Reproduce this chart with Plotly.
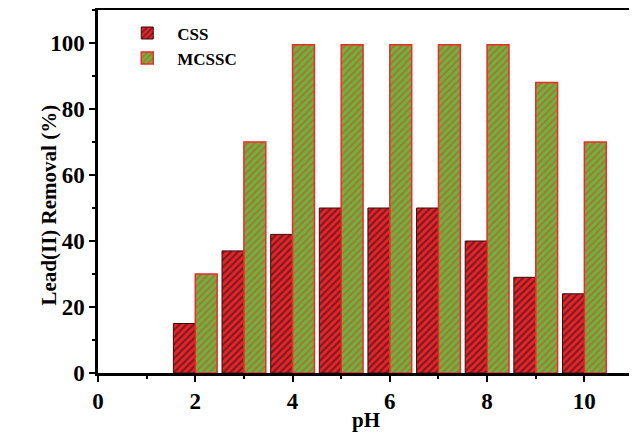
import plotly.graph_objects as go

ph = [2, 3, 4, 5, 6, 7, 8, 9, 10]
css = [15, 37, 42, 50, 50, 50, 40, 29, 24]
mcssc = [30, 70, 99.5, 99.5, 99.5, 99.5, 99.5, 88, 70]

fig = go.Figure()
fig.add_trace(go.Bar(
    x=ph, y=css, name="CSS", width=0.45, offset=-0.45,
    marker=dict(color="#e8242a", line=dict(color="#3a0a0a", width=1),
                pattern=dict(shape="/", fgcolor="#111111", bgcolor="#e8242a",
                             size=5, solidity=0.45, fillmode="overlay")),
))
fig.add_trace(go.Bar(
    x=ph, y=mcssc, name="MCSSC", width=0.45, offset=0,
    marker=dict(color="#6db33f", line=dict(color="#ee2a2a", width=1.5),
                pattern=dict(shape="/", fgcolor="#e23a2a", bgcolor="#6db33f",
                             size=5, solidity=0.4, fillmode="overlay")),
))

font = "Liberation Serif, Times New Roman, serif"
axis_common = dict(
    showline=True, linecolor="black", linewidth=2.5, mirror="ticks",
    ticks="outside", ticklen=6, tickwidth=2, tickcolor="black",
    showgrid=False, zeroline=False, automargin=False,
    tickfont=dict(family=font, size=23, color="black", weight="bold"),
)
fig.update_xaxes(
    range=[0, 11], tick0=0, dtick=2,
    minor=dict(dtick=1, ticks="outside", ticklen=3, tickwidth=2, tickcolor="black"),
    **axis_common,
)
fig.update_yaxes(
    range=[0, 110], tick0=0, dtick=20,
    minor=dict(dtick=10, ticks="outside", ticklen=3, tickwidth=2, tickcolor="black"),
    **axis_common,
)
title_font = dict(family=font, size=21, color="black", weight="bold")
fig.add_annotation(text="Lead(II) Removal (%)", textangle=-90, xref="paper", yref="paper",
                   x=0, y=0.5, xanchor="center", yanchor="middle", xshift=-50, yshift=-14,
                   showarrow=False, font=title_font)
fig.add_annotation(text="pH", xref="paper", yref="paper",
                   x=0.5, y=0, xanchor="center", yanchor="middle", yshift=-47,
                   showarrow=False, font=title_font)
fig.update_layout(
    width=629, height=426,
    margin=dict(l=90, r=4, t=2, b=61),
    plot_bgcolor="white", paper_bgcolor="white",
    barmode="overlay",
    showlegend=True,
    legend=dict(x=0.036, y=0.985, xanchor="left", yanchor="top",
                font=dict(family=font, size=17, color="black", weight="bold"),
                bgcolor="rgba(0,0,0,0)", itemwidth=50, tracegroupgap=0),
)
fig.write_html("out.html")
